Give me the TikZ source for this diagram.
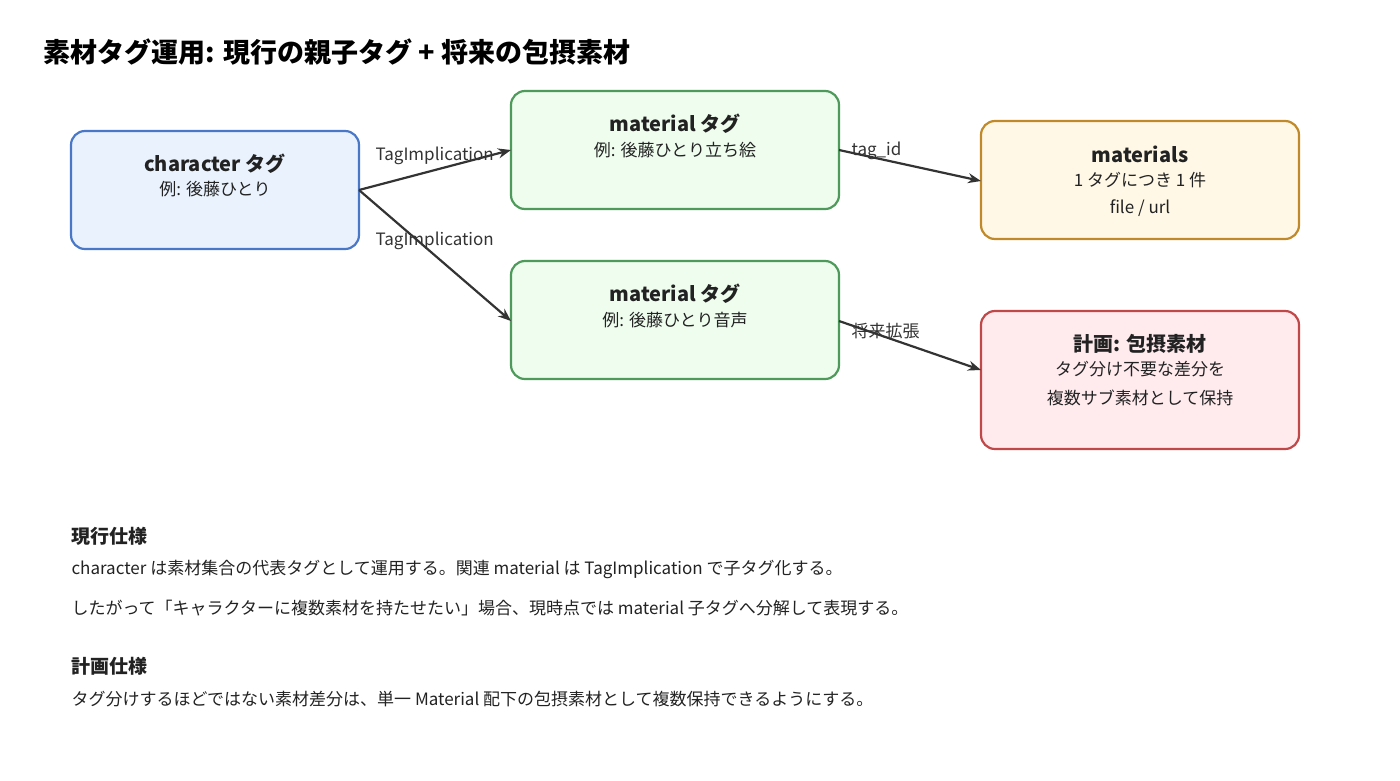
\documentclass[tikz,border=0pt]{standalone}
\usepackage{fontspec}
\setmainfont{Noto Sans CJK JP}
\usetikzlibrary{arrows.meta}
\definecolor{bb}{HTML}{4A78C8}\definecolor{bf}{HTML}{EAF2FD}
\definecolor{gb}{HTML}{4E9A5A}\definecolor{gf}{HTML}{EFFDEF}
\definecolor{yb}{HTML}{C08A2A}\definecolor{yf}{HTML}{FFF8E6}
\definecolor{rb}{HTML}{C04848}\definecolor{rf}{HTML}{FFEBEE}
\definecolor{tx}{HTML}{222222}\definecolor{ar}{HTML}{333333}
\begin{document}
\begin{tikzpicture}[x=1pt,y=-1pt,
 box/.style={draw,line width=2.2pt,rounded corners=14pt},
 hd/.style={font=\fontsize{20}{24}\selectfont\bfseries,text=tx},
 ln/.style={font=\fontsize{17}{20}\selectfont,text=tx},
 lab/.style={font=\fontsize{17}{20}\selectfont,text=ar,anchor=west},
 con/.style={draw=ar,line width=2.2pt,-{Stealth[length=13pt,width=10pt]}},
 body/.style={font=\fontsize{17}{20}\selectfont,text=tx,anchor=west}]
\useasboundingbox (0,0) rectangle (1400,780);
\node[anchor=west,font=\fontsize{27}{32}\selectfont\bfseries,text=black] (title) at (40,52) {素材タグ運用: 現行の親子タグ + 将来の包摂素材};
\draw[box,draw=bb,fill=bf] (71,131) rectangle (359,249);
\draw[box,draw=gb,fill=gf] (511,91) rectangle (839,209);
\draw[box,draw=gb,fill=gf] (511,261) rectangle (839,379);
\draw[box,draw=yb,fill=yf] (981,121) rectangle (1299,239);
\draw[box,draw=rb,fill=rf] (981,311) rectangle (1299,449);
\coordinate (c) at (359,190);
\coordinate (m1i) at (511,150); \coordinate (m1o) at (839,150);
\coordinate (m2i) at (511,321); \coordinate (m2o) at (839,321);
\coordinate (mi) at (981,181); \coordinate (pi) at (981,370);
\node[hd] (ct) at (215,164) {character タグ};
\node[ln] (cs) at (215,189) {例: 後藤ひとり};
\node[hd] (m1t) at (675,124) {material タグ};
\node[ln] (m1s) at (675,150) {例: 後藤ひとり立ち絵};
\node[hd] (m2t) at (675,294) {material タグ};
\node[ln] (m2s) at (675,320) {例: 後藤ひとり音声};
\node[hd] (mt) at (1140,154) {materials};
\node[ln] (ms1) at (1140,180) {1 タグにつき 1 件};
\node[ln] (ms2) at (1140,208) {file / url};
\node[hd] (pt) at (1140,344) {計画: 包摂素材};
\node[ln] (ps1) at (1140,369) {タグ分け不要な差分を};
\node[ln] (ps2) at (1140,398) {複数サブ素材として保持};
\draw[con] (c) -- (m1i);
\draw[con] (c) -- (m2i);
\draw[con] (m1o) -- (mi);
\draw[con] (m2o) -- (pi);
\node[lab] (l1) at (372,156) {TagImplication};
\node[lab] (l2) at (372,241) {TagImplication};
\node[lab] (l3) at (848,151) {tag\_id};
\node[lab] (l4) at (848,331) {将来拡張};
\node[body,font=\fontsize{19}{22}\selectfont\bfseries] (h1) at (68,536) {現行仕様};
\node[body] (b1) at (68,569) {character は素材集合の代表タグとして運用する。関連 material は TagImplication で子タグ化する。};
\node[body] (b2) at (68,608) {したがって「キャラクターに複数素材を持たせたい」場合、現時点では material 子タグへ分解して表現する。};
\node[body,font=\fontsize{19}{22}\selectfont\bfseries] (h2) at (68,666) {計画仕様};
\node[body] (b3) at (68,699) {タグ分けするほどではない素材差分は、単一 Material 配下の包摂素材として複数保持できるようにする。};
\end{tikzpicture}
\end{document}
